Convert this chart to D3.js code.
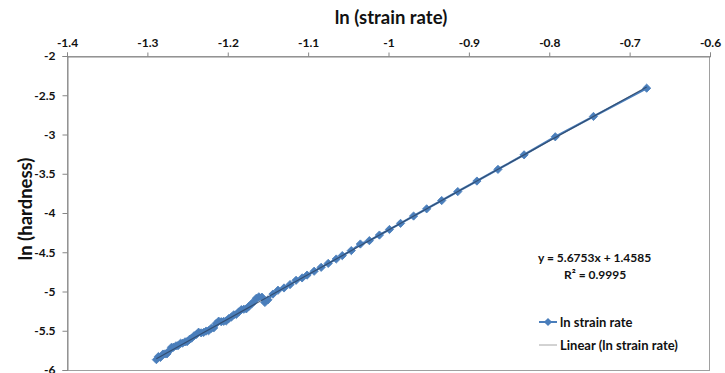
<!DOCTYPE html>
<html><head><meta charset="utf-8">
<script src="https://cdn.jsdelivr.net/npm/d3@7"></script>
<style>
html,body{margin:0;padding:0;background:#fff;}
svg{display:block;font-family:Lato,"Open Sans",sans-serif;}
</style></head>
<body>
<svg id="chart" width="725" height="373"></svg>
<script>
// ---- data ----
const lnStrainRate = [-1.2888,-1.2863,-1.2838,-1.2806,-1.2781,-1.2756,-1.2725,-1.2700,-1.2675,-1.2644,-1.2619,-1.2588,-1.2563,-1.2531,-1.2506,-1.2475,-1.2450,-1.2419,-1.2388,-1.2363,-1.2331,-1.2300,-1.2269,-1.2238,-1.2206,-1.2175,-1.2144,-1.2113,-1.2081,-1.2050,-1.2019,-1.1988,-1.1956,-1.1925,-1.1894,-1.1863,-1.1831,-1.1800,-1.1769,-1.1738,-1.1706,-1.1675,-1.1644,-1.1613,-1.1575,-1.1538,-1.1500,-1.1438,-1.1375,-1.1300,-1.1225,-1.1150,-1.1075,-1.1013,-1.0925,-1.0838,-1.0750,-1.0650,-1.0575,-1.0463,-1.0350,-1.0238,-1.0113,-0.9988,-0.9850,-0.9688,-0.9525,-0.9338,-0.9138,-0.8900,-0.8638,-0.8313,-0.7925,-0.7450,-0.6788];
const lnHardness = [-5.868,-5.829,-5.840,-5.797,-5.795,-5.794,-5.751,-5.711,-5.710,-5.692,-5.690,-5.660,-5.658,-5.641,-5.639,-5.609,-5.595,-5.564,-5.546,-5.519,-5.527,-5.522,-5.504,-5.499,-5.469,-5.464,-5.408,-5.378,-5.385,-5.380,-5.375,-5.345,-5.327,-5.297,-5.292,-5.261,-5.231,-5.226,-5.221,-5.190,-5.160,-5.129,-5.086,-5.068,-5.072,-5.140,-5.106,-5.033,-4.984,-4.955,-4.912,-4.857,-4.827,-4.791,-4.742,-4.692,-4.642,-4.586,-4.543,-4.479,-4.395,-4.352,-4.281,-4.210,-4.132,-4.039,-3.947,-3.841,-3.727,-3.593,-3.444,-3.259,-3.029,-2.770,-2.410];
const xTicks = [-1.4,-1.3,-1.2,-1.1,-1,-0.9,-0.8,-0.7,-0.6];
const yTicks = [-2,-2.5,-3,-3.5,-4,-4.5,-5,-5.5,-6];
const trendSlope = [5.6753];
const trendIntercept = [1.4585];
const equationLabels = ["y = 5.6753x + 1.4585", "R² = 0.9995"];
const legendLabels = ["ln strain rate", "Linear (ln strain rate)"];
const xTitle = "ln (strain rate)";
const yTitle = "ln (hardness)";

// ---- layout ----
const svg = d3.select("#chart");
const L = 67, R = 710, T = 56, B = 370;
const x = d3.scaleLinear().domain([-1.4,-0.6]).range([L,R]);
const y = d3.scaleLinear().domain([-6,-2]).range([B,T]);
const blue = "#4a7ebb";

// plot border
svg.append("rect").attr("x",L+0.5).attr("y",T+0.5).attr("width",R-L-1).attr("height",B-T)
  .attr("fill","none").attr("stroke","#a0a0a0").attr("stroke-width",1);

// axes
const fmt = d => String(d);
const xAxis = d3.axisTop(x).tickValues(xTicks).tickSize(4).tickPadding(6).tickFormat(fmt);
const gx = svg.append("g").attr("transform",`translate(0,${T+0.5})`).call(xAxis);
const yAxis = d3.axisLeft(y).tickValues(yTicks).tickSize(5).tickPadding(7).tickFormat(fmt);
const gy = svg.append("g").attr("transform",`translate(${L+0.5},0)`).call(yAxis);
[gx,gy].forEach(g=>{
  g.select(".domain").attr("stroke","#868686");
  g.selectAll(".tick line").attr("stroke","#868686");
  g.selectAll(".tick text").attr("fill","#111").style("font-family","Lato, sans-serif")
    .style("font-size","12px").style("font-weight","bold");
});

// titles
svg.append("text").attr("x",391).attr("y",24).attr("text-anchor","middle")
  .style("font-size","18.5px").style("font-weight","bold").attr("fill","#111").text(xTitle);
svg.append("text").attr("transform","translate(32,209) rotate(-90)").attr("text-anchor","middle")
  .style("font-size","18.5px").style("font-weight","bold").attr("fill","#111").text(yTitle);

// series
const pts = lnStrainRate.map((v,i)=>[v, lnHardness[i]]);
const line = d3.line().x(d=>x(d[0])).y(d=>y(d[1]));
svg.append("path").datum(pts).attr("d",line).attr("fill","none").attr("stroke",blue).attr("stroke-width",2.25);
const diamond = d3.symbol().type(d3.symbolSquare).size(34);
svg.append("g").selectAll("path").data(pts).join("path")
  .attr("d",diamond).attr("transform",d=>`translate(${x(d[0])},${y(d[1])}) rotate(45)`)
  .attr("fill",blue).attr("stroke",blue).attr("stroke-width",0.8);

// trendline
const xmin = d3.min(lnStrainRate), xmax = d3.max(lnStrainRate);
const tl = [xmin,xmax].map(v=>[v, trendSlope[0]*v + trendIntercept[0]]);
svg.append("path").datum(tl).attr("d",line).attr("fill","none").attr("stroke","#2a3f5c").attr("stroke-opacity",0.75).attr("stroke-width",1.2);

// equation
svg.append("text").attr("x",538).attr("y",262).style("font-size","12px").style("font-weight","bold").attr("fill","#111").text(equationLabels[0]);
svg.append("text").attr("x",564).attr("y",279).style("font-size","12px").style("font-weight","bold").attr("fill","#111").text(equationLabels[1]);

// legend
const lg = svg.append("g");
lg.append("line").attr("x1",539).attr("x2",557).attr("y1",322).attr("y2",322).attr("stroke",blue).attr("stroke-width",2);
lg.append("path").attr("d",diamond).attr("transform","translate(548,322) rotate(45)").attr("fill",blue);
lg.append("text").attr("x",560).attr("y",327).style("font-size","13px").style("font-weight","bold").attr("fill","#111").text(legendLabels[0]);
lg.append("line").attr("x1",539).attr("x2",557).attr("y1",345).attr("y2",345).attr("stroke","#a6a6a6").attr("stroke-width",1);
lg.append("text").attr("x",560).attr("y",350).style("font-size","13px").style("font-weight","bold").attr("fill","#111").text(legendLabels[1]);
</script>
</body></html>
